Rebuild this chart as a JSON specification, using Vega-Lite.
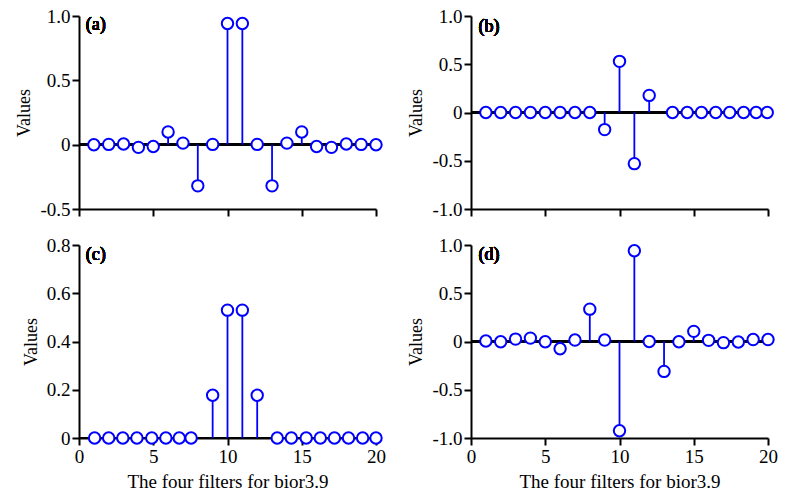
{
  "$schema": "https://vega.github.io/schema/vega-lite/v6.json",
  "background": "white",
  "padding": {"left": 15, "top": 7, "right": 5, "bottom": 5},
  "datasets": {
    "lowpass_dec": [
      {"x": 1, "v": -0.0007}, {"x": 2, "v": 0.002}, {"x": 3, "v": 0.005}, {"x": 4, "v": -0.021},
      {"x": 5, "v": -0.014}, {"x": 6, "v": 0.099}, {"x": 7, "v": 0.012}, {"x": 8, "v": -0.320},
      {"x": 9, "v": 0.002}, {"x": 10, "v": 0.942}, {"x": 11, "v": 0.942}, {"x": 12, "v": 0.002},
      {"x": 13, "v": -0.320}, {"x": 14, "v": 0.012}, {"x": 15, "v": 0.099}, {"x": 16, "v": -0.014},
      {"x": 17, "v": -0.021}, {"x": 18, "v": 0.005}, {"x": 19, "v": 0.002}, {"x": 20, "v": -0.0007}
    ],
    "highpass_dec": [
      {"x": 1, "v": 0}, {"x": 2, "v": 0}, {"x": 3, "v": 0}, {"x": 4, "v": 0},
      {"x": 5, "v": 0}, {"x": 6, "v": 0}, {"x": 7, "v": 0}, {"x": 8, "v": 0},
      {"x": 9, "v": -0.177}, {"x": 10, "v": 0.530}, {"x": 11, "v": -0.530}, {"x": 12, "v": 0.177},
      {"x": 13.57, "v": 0}, {"x": 14.56, "v": 0}, {"x": 15.52, "v": 0}, {"x": 16.48, "v": 0},
      {"x": 17.42, "v": 0}, {"x": 18.36, "v": 0}, {"x": 19.2, "v": 0}, {"x": 19.95, "v": 0}
    ],
    "lowpass_rec": [
      {"x": 1.05, "v": 0}, {"x": 2.0, "v": 0}, {"x": 2.95, "v": 0}, {"x": 3.9, "v": 0},
      {"x": 4.9, "v": 0}, {"x": 5.85, "v": 0}, {"x": 6.75, "v": 0}, {"x": 7.55, "v": 0},
      {"x": 9, "v": 0.177}, {"x": 10, "v": 0.530}, {"x": 11, "v": 0.530}, {"x": 12, "v": 0.177},
      {"x": 13.35, "v": 0}, {"x": 14.3, "v": 0}, {"x": 15.3, "v": 0}, {"x": 16.25, "v": 0},
      {"x": 17.2, "v": 0}, {"x": 18.15, "v": 0}, {"x": 19.1, "v": 0}, {"x": 20.0, "v": 0}
    ],
    "highpass_rec": [
      {"x": 1, "v": 0.005}, {"x": 2, "v": -0.003}, {"x": 3, "v": 0.025}, {"x": 4, "v": 0.035},
      {"x": 5, "v": -0.003}, {"x": 6, "v": -0.075}, {"x": 7, "v": 0.015}, {"x": 8, "v": 0.335},
      {"x": 9, "v": 0.015}, {"x": 10, "v": -0.925}, {"x": 11, "v": 0.94}, {"x": 12, "v": 0.0},
      {"x": 13, "v": -0.31}, {"x": 14, "v": -0.003}, {"x": 15, "v": 0.105}, {"x": 16, "v": 0.012},
      {"x": 17, "v": -0.012}, {"x": 18, "v": -0.005}, {"x": 19, "v": 0.02}, {"x": 20, "v": 0.02}
    ]
  },
  "columns": 2,
  "spacing": {"row": 17, "column": 21},
  "concat": [
    {
      "width": 297, "height": 193,
      "data": {"name": "lowpass_dec"},
      "layer": [
        {"mark": {"type": "rule", "color": "black", "strokeWidth": 2}, "encoding": {"y": {"datum": 0}}},
        {
          "mark": {"type": "rule", "color": "#0000ff", "strokeWidth": 1.8},
          "encoding": {
            "x": {"field": "x", "type": "quantitative", "scale": {"domain": [0, 20], "nice": false},
                  "axis": {"values": [0, 5, 10, 15, 20], "labels": false, "title": null}},
            "y": {"field": "v", "type": "quantitative", "scale": {"domain": [-0.5, 1], "nice": false, "zero": false},
                  "axis": {"values": [-0.5, 0, 0.5, 1], "title": "Values",
                           "labelExpr": "datum.value == 0 ? '0' : (datum.value < 0 ? '-' + format(-datum.value, '.1f') : format(datum.value, '.1f'))"}},
            "y2": {"datum": 0}
          }
        },
        {
          "mark": {"type": "point", "shape": "circle", "filled": true, "fill": "white", "stroke": "#0000ff", "strokeWidth": 2, "size": 130, "opacity": 1},
          "encoding": {"x": {"field": "x", "type": "quantitative"}, "y": {"field": "v", "type": "quantitative"}}
        },
        {
          "mark": {"type": "text", "align": "left", "baseline": "middle", "fontSize": 18, "fontWeight": "normal", "font": "Liberation Serif", "color": "black"},
          "encoding": {"x": {"datum": 0.45}, "y": {"datum": 0.93}, "text": {"value": "(a)"}}
        }
      ]
    },
    {
      "width": 297, "height": 193,
      "data": {"name": "highpass_dec"},
      "layer": [
        {"mark": {"type": "rule", "color": "black", "strokeWidth": 2}, "encoding": {"y": {"datum": 0}}},
        {
          "mark": {"type": "rule", "color": "#0000ff", "strokeWidth": 1.8},
          "encoding": {
            "x": {"field": "x", "type": "quantitative", "scale": {"domain": [0, 20], "nice": false},
                  "axis": {"values": [0, 5, 10, 15, 20], "labels": false, "title": null}},
            "y": {"field": "v", "type": "quantitative", "scale": {"domain": [-1, 1], "nice": false},
                  "axis": {"values": [-1, -0.5, 0, 0.5, 1], "title": "Values",
                           "labelExpr": "datum.value == 0 ? '0' : (datum.value < 0 ? '-' + format(-datum.value, '.1f') : format(datum.value, '.1f'))"}},
            "y2": {"datum": 0}
          }
        },
        {
          "mark": {"type": "point", "shape": "circle", "filled": true, "fill": "white", "stroke": "#0000ff", "strokeWidth": 2, "size": 130, "opacity": 1},
          "encoding": {"x": {"field": "x", "type": "quantitative"}, "y": {"field": "v", "type": "quantitative"}}
        },
        {
          "mark": {"type": "text", "align": "left", "baseline": "middle", "fontSize": 18, "fontWeight": "normal", "font": "Liberation Serif", "color": "black"},
          "encoding": {"x": {"datum": 0.5}, "y": {"datum": 0.89}, "text": {"value": "(b)"}}
        }
      ]
    },
    {
      "width": 297, "height": 193,
      "data": {"name": "lowpass_rec"},
      "layer": [
        {"mark": {"type": "rule", "color": "black", "strokeWidth": 2}, "encoding": {"y": {"datum": 0}}},
        {
          "mark": {"type": "rule", "color": "#0000ff", "strokeWidth": 1.8},
          "encoding": {
            "x": {"field": "x", "type": "quantitative", "scale": {"domain": [0, 20], "nice": false},
                  "axis": {"values": [0, 5, 10, 15, 20], "title": "The four filters for bior3.9"}},
            "y": {"field": "v", "type": "quantitative", "scale": {"domain": [0, 0.8], "nice": false},
                  "axis": {"values": [0, 0.2, 0.4, 0.6, 0.8], "title": "Values",
                           "labelExpr": "datum.value == 0 ? '0' : format(datum.value, '.1f')"}},
            "y2": {"datum": 0}
          }
        },
        {
          "mark": {"type": "point", "shape": "circle", "filled": true, "fill": "white", "stroke": "#0000ff", "strokeWidth": 2, "size": 130, "opacity": 1},
          "encoding": {"x": {"field": "x", "type": "quantitative"}, "y": {"field": "v", "type": "quantitative"}}
        },
        {
          "mark": {"type": "text", "align": "left", "baseline": "middle", "fontSize": 18, "fontWeight": "normal", "font": "Liberation Serif", "color": "black"},
          "encoding": {"x": {"datum": 0.45}, "y": {"datum": 0.76}, "text": {"value": "(c)"}}
        }
      ]
    },
    {
      "width": 297, "height": 193,
      "data": {"name": "highpass_rec"},
      "layer": [
        {"mark": {"type": "rule", "color": "black", "strokeWidth": 2}, "encoding": {"y": {"datum": 0}}},
        {
          "mark": {"type": "rule", "color": "#0000ff", "strokeWidth": 1.8},
          "encoding": {
            "x": {"field": "x", "type": "quantitative", "scale": {"domain": [0, 20], "nice": false},
                  "axis": {"values": [0, 5, 10, 15, 20], "title": "The four filters for bior3.9"}},
            "y": {"field": "v", "type": "quantitative", "scale": {"domain": [-1, 1], "nice": false},
                  "axis": {"values": [-1, -0.5, 0, 0.5, 1], "title": "Values",
                           "labelExpr": "datum.value == 0 ? '0' : (datum.value < 0 ? '-' + format(-datum.value, '.1f') : format(datum.value, '.1f'))"}},
            "y2": {"datum": 0}
          }
        },
        {
          "mark": {"type": "point", "shape": "circle", "filled": true, "fill": "white", "stroke": "#0000ff", "strokeWidth": 2, "size": 130, "opacity": 1},
          "encoding": {"x": {"field": "x", "type": "quantitative"}, "y": {"field": "v", "type": "quantitative"}}
        },
        {
          "mark": {"type": "text", "align": "left", "baseline": "middle", "fontSize": 18, "fontWeight": "normal", "font": "Liberation Serif", "color": "black"},
          "encoding": {"x": {"datum": 0.5}, "y": {"datum": 0.9}, "text": {"value": "(d)"}}
        }
      ]
    }
  ],
  "config": {
    "font": "Liberation Serif",
    "view": {"stroke": null},
    "text": {"fontWeight": "normal"},
    "axis": {
      "grid": false,
      "domainColor": "black", "domainWidth": 2,
      "tickColor": "black", "tickWidth": 2, "tickSize": 7,
      "labelFont": "Liberation Serif", "labelFontSize": 19, "labelColor": "black", "labelPadding": 2,
      "labelFlush": false, "labelOverlap": false,
      "titleFont": "Liberation Serif", "titleFontSize": 18, "titleFontWeight": "normal", "titleColor": "black",
      "titlePadding": 6
    },
    "axisX": {"titleFontSize": 19}
  }
}
